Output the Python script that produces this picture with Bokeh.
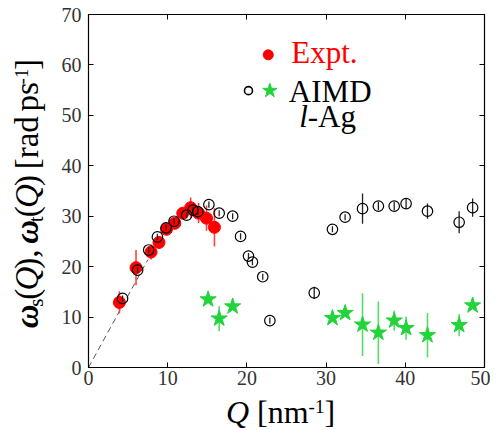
import math
from bokeh.plotting import figure
from bokeh.layouts import row, column
from bokeh.models import Label, LinearAxis, FixedTicker, Range1d
from bokeh.embed import file_html
from bokeh.resources import INLINE

# ---------------- data ----------------
expt_q = [3.9, 6.0, 7.9, 8.9, 9.85, 10.9, 11.9, 12.9, 13.9, 14.9, 15.9]
expt_w = [12.9, 19.8, 22.9, 24.8, 27.4, 28.6, 30.6, 31.7, 30.6, 29.6, 27.8]
expt_err = [2.2, 3.5, 1.5, 1.0, 1.0, 1.0, 1.0, 2.0, 2.0, 2.5, 3.8]

aimd_l_q = [4.3, 6.2, 7.6, 8.7, 9.8, 10.8, 12.4, 13.2, 13.8, 15.2, 16.5, 18.2, 19.2,
            20.2, 20.7, 22.0, 22.9, 28.5, 30.8, 32.4, 34.6, 36.6, 38.6, 40.1, 42.8, 46.8, 48.5]
aimd_l_w = [13.7, 19.3, 23.3, 25.9, 27.7, 29.0, 30.2, 31.2, 30.9, 32.3, 30.6, 30.0, 26.0,
            22.1, 20.9, 18.0, 9.3, 14.8, 27.4, 29.8, 31.5, 32.0, 32.0, 32.5, 31.0, 28.8, 31.7]
aimd_l_err = [0.6, 0.6, 0.6, 0.6, 0.6, 0.6, 0.6, 0.6, 0.6, 0.6, 0.6, 0.6, 0.6,
              0.6, 0.6, 0.6, 0.6, 1.2, 0.6, 0.6, 3.0, 0.8, 0.8, 1.0, 1.5, 2.2, 1.8]

aimd_t_q = [15.1, 16.5, 18.2, 30.8, 32.4, 34.6, 36.6, 38.6, 40.1, 42.8, 46.8, 48.5]
aimd_t_w = [13.5, 9.7, 12.1, 9.8, 10.8, 8.5, 6.9, 9.3, 7.8, 6.4, 8.4, 12.3]
aimd_t_err = [0.5, 2.5, 0.5, 0.5, 0.5, 6.2, 6.2, 2.0, 2.3, 4.4, 2.2, 0.5]

dash_q = [0.0, 7.5]
dash_w = [0.0, 21.4]

x_ticks = [0, 10, 20, 30, 40, 50]
y_ticks = [0, 10, 20, 30, 40, 50, 60, 70]

legend_expt = dict(q=[22.7], w=[62.0])
legend_circle = dict(q=[20.2], w=[54.9])
legend_star = dict(q=[22.9], w=[54.9])

RED = "#ff0000"
GREEN = "#22d43a"
FONT = "Liberation Serif"

# ---------------- layout geometry (pixels) ----------------
YL_W = 48          # left strip holding the y-axis title
P_W = 442          # main plot
TOP_H = 393        # height of the top row
XL_H = 36          # bottom strip holding the x-axis title

# ---------------- main figure ----------------
p = figure(width=P_W, height=TOP_H, x_range=Range1d(0, 50), y_range=Range1d(0, 70),
           output_backend="svg", toolbar_location=None,
           min_border_left=40, min_border_right=6, min_border_top=14, min_border_bottom=26)
p.background_fill_color = "white"
p.border_fill_color = "white"
p.outline_line_color = "black"
p.outline_line_width = 1.2
p.xgrid.visible = False
p.ygrid.visible = False

for ax, ticks in ((p.xaxis[0], x_ticks), (p.yaxis[0], y_ticks)):
    ax.ticker = FixedTicker(ticks=ticks)
    ax.major_tick_in = 5
    ax.major_tick_out = 0
    ax.minor_tick_line_color = None
    ax.axis_line_color = "black"
    ax.major_tick_line_color = "black"
    ax.major_label_text_font = FONT
    ax.major_label_text_font_size = "20px"
    ax.major_label_text_color = "#333333"
p.xaxis.major_label_standoff = 3
p.yaxis.major_label_standoff = 7

# mirrored inward ticks on the right and top edges (no labels)
rax = LinearAxis(ticker=FixedTicker(ticks=y_ticks), major_tick_in=5, major_tick_out=0,
                 minor_tick_line_color=None, major_label_standoff=0,
                 major_label_overrides={t: "" for t in y_ticks},
                 major_label_text_font_size="1px", axis_line_color="black")
p.add_layout(rax, "right")
tax = LinearAxis(ticker=FixedTicker(ticks=x_ticks), major_tick_in=5, major_tick_out=0,
                 minor_tick_line_color=None, major_label_standoff=0,
                 major_label_overrides={t: "" for t in x_ticks},
                 major_label_text_font_size="1px", axis_line_color="black")
p.add_layout(tax, "above")

# ---------------- marks ----------------
p.line(dash_q, dash_w, line_dash="6 4", line_color="#555555", line_width=1)

p.segment(expt_q, [w - e for w, e in zip(expt_w, expt_err)],
          expt_q, [w + e for w, e in zip(expt_w, expt_err)],
          line_color="#ff4040", line_width=1.6)
p.scatter(expt_q, expt_w, marker="circle", size=12, fill_color=RED, line_color=RED)

p.segment(aimd_l_q, [w - e for w, e in zip(aimd_l_w, aimd_l_err)],
          aimd_l_q, [w + e for w, e in zip(aimd_l_w, aimd_l_err)],
          line_color="#222222", line_width=1.3)
p.scatter(aimd_l_q, aimd_l_w, marker="circle", size=10.5, fill_color=None,
          line_color="black", line_width=1.2)

p.segment(aimd_t_q, [w - e for w, e in zip(aimd_t_w, aimd_t_err)],
          aimd_t_q, [w + e for w, e in zip(aimd_t_w, aimd_t_err)],
          line_color="#55dd66", line_width=1.6)
p.scatter(aimd_t_q, aimd_t_w, marker="star", size=17, fill_color=GREEN, line_color=GREEN)

# legend keys
p.scatter(legend_expt["q"], legend_expt["w"], marker="circle", size=10, fill_color=RED, line_color=RED)
p.scatter(legend_circle["q"], legend_circle["w"], marker="circle", size=8, fill_color=None,
          line_color="black", line_width=1.6)
p.scatter(legend_star["q"], legend_star["w"], marker="star", size=15, fill_color=GREEN, line_color=GREEN)

# ---------------- rich text helper ----------------
REG = {" ": .25, "[": .333, "]": .333, "(": .333, ")": .333, ",": .25, "-": .333, "1": .5,
       "n": .5, "m": .778, "r": .333, "a": .444, "d": .5, "p": .5, "s": .389, "t": .278,
       "E": .611, "x": .5, ".": .25, "A": .722, "I": .333, "M": .889, "D": .722, "g": .5}
ITA = {"Q": .722, "l": .278}
BI = {"ω": .667}
MID_K = 0.3375   # middle of the font box, above the baseline, as a fraction of the size


def width(t, style, space=.25):
    tab = ITA if style == "italic" else BI if style == "bold italic" else REG
    return sum(space if c == " " else tab.get(c, REG.get(c, .5)) for c in t)


def rich(fig, runs, x0, y0, sx=1.0, sy=1.0, vertical=False, color="black", space=.25):
    """Place runs of differently styled text one after another.
    (x0, y0) = start of the baseline; sx, sy: data units per pixel in fig.
    Each run is anchored at the centre of its own text box."""
    pos = 0.0
    for text, size, style, shift in runs:
        lead = len(text) - len(text.lstrip(" "))
        shown = text.strip(" ")
        if shown:
            start = pos + lead * space * size
            mid_along = start + width(shown, style, space) * size / 2
            up = MID_K * size - shift        # distance of box centre above baseline
            if vertical:
                x = x0 - up * sx
                y = y0 + mid_along * sy
                ang = math.pi / 2
            else:
                x = x0 + mid_along * sx
                y = y0 + up * sy
                ang = 0
            fig.add_layout(Label(x=x, y=y, text=shown, angle=ang, text_font=FONT,
                                 text_font_size=f"{size}px", text_font_style=style,
                                 text_color=color, text_align="center",
                                 text_baseline="middle"))
        pos += width(text, style, space) * size
    return pos


def strip_fig(w, h):
    f = figure(width=w, height=h, x_range=Range1d(0, w), y_range=Range1d(0, h),
               output_backend="svg", toolbar_location=None, min_border=0,
               x_axis_location=None, y_axis_location=None)
    f.outline_line_color = None
    f.xgrid.visible = False
    f.ygrid.visible = False
    f.background_fill_color = "white"
    f.border_fill_color = "white"
    return f


# y-axis title (pixel coordinates inside the left strip, y measured from strip bottom)
FY = 33
SUBY = 21
yl = strip_fig(YL_W, TOP_H)
ylab = [("ω", FY, "bold italic", 0), ("s", SUBY, "normal", 5), ("(", FY, "normal", 0),
        ("Q", FY, "italic", 0), ("),", FY, "normal", 0), (" ω", FY, "bold italic", 0),
        ("t", SUBY, "normal", 5), ("(", FY, "normal", 0), ("Q", FY, "italic", 0),
        (")", FY, "normal", 0), (" [rad", FY, "normal", 0), (" ps", FY, "normal", 0),
        ("-1", 19, "normal", -11), ("]", FY, "normal", 0)]
rich(yl, ylab, 38, TOP_H - 347, vertical=True, space=.3)

# x-axis title (pixel coordinates inside the bottom strip)
FX = 32
TOTAL_W = YL_W + P_W
xl = strip_fig(TOTAL_W, XL_H)
xlab = [("Q", FX, "italic", 0), (" [nm", FX, "normal", 0), ("-1", 19, "normal", -10),
        ("]", FX, "normal", 0)]
xw = sum(width(t, s) * sz for t, sz, s, _ in xlab)
rich(xl, xlab, 280 - xw / 2, TOP_H + XL_H - 422)

# legend texts (data coordinates in main plot)
PX_X = 50 / 396
PX_Y = 70 / 353
LF = 31
rich(p, [("Expt.", LF, "normal", 0)], 25.6, 60.4, PX_X, PX_Y, color=RED)
rich(p, [("AIMD", LF, "normal", 0)], 25.3, 52.7, PX_X, PX_Y)
rich(p, [("l", LF, "italic", 0), ("-Ag", LF, "normal", 0)], 26.6, 47.7, PX_X, PX_Y)

layout = column(row(yl, p, spacing=0), xl, spacing=0)
open("out.html", "w").write(file_html(layout, INLINE))
